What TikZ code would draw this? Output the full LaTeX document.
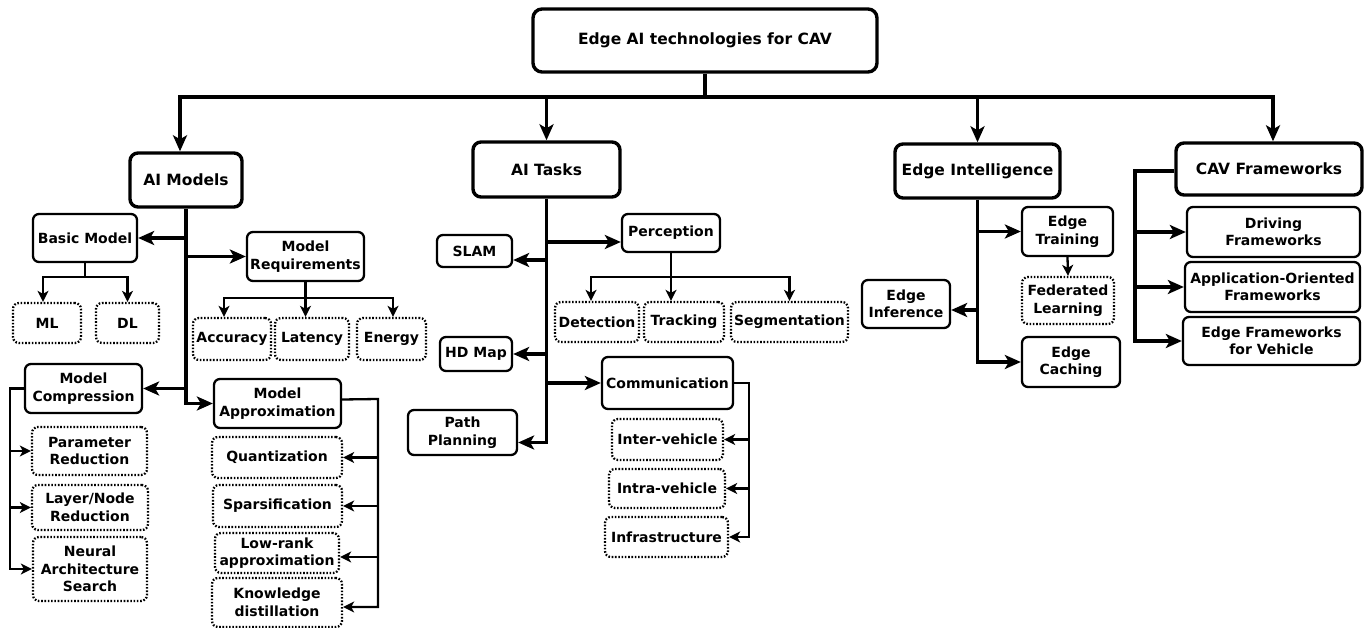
\documentclass[tikz,border=0pt]{standalone}
\usepackage{fontspec}
\setmainfont{DejaVu Sans}
\usetikzlibrary{arrows.meta}
\tikzset{
  basebox/.style={draw, rounded corners=6pt, align=center, inner sep=0pt, font=\bfseries\fontsize{14}{17.5}\selectfont},
  topbox/.style={basebox, line width=3.4pt, rounded corners=9pt, font=\bfseries\fontsize{15.5}{18}\selectfont},
  catbox/.style={basebox, line width=3.4pt, rounded corners=8pt, font=\bfseries\fontsize{15.5}{18}\selectfont},
  subbox/.style={basebox, line width=2.3pt},
  leafbox/.style={basebox, line width=2.3pt, dash pattern=on 1.6pt off 1.7pt},
  bigline/.style={line width=3.6pt},
  midline/.style={line width=3.2pt},
  smallline/.style={line width=2.3pt},
  bigarrow/.style={bigline, -{Stealth[length=16pt,width=14pt,inset=4pt]}},
  midarrow/.style={midline, -{Stealth[length=16pt,width=14pt,inset=4pt]}},
  smallarrow/.style={smallline, -{Stealth[length=11pt,width=11pt,inset=3pt]}},
}
\begin{document}
\begin{tikzpicture}[x=1pt,y=-1pt]
\fill[white] (0,0) rectangle (1367,628);
\useasboundingbox (0,0) rectangle (1367,628);

% ---- top
\node[topbox, minimum width=344pt, minimum height=63pt] (top) at (705,40.5) {Edge AI technologies for CAV};
\node[catbox, minimum width=112pt, minimum height=54pt] (aimodels) at (186,180) {AI Models};
\node[catbox, minimum width=147pt, minimum height=55pt] (aitasks) at (546.5,169.5) {AI Tasks};
\node[catbox, minimum width=165pt, minimum height=54pt] (ei) at (977.5,171) {Edge Intelligence};
\node[catbox, minimum width=186pt, minimum height=52pt] (cav) at (1269,169) {CAV Frameworks};

\coordinate (barL) at (180,97);
\coordinate (barR) at (1273,97);
\draw[midarrow] (top.south) -- (top.south |- barL) -- (barL) -- (barL |- aimodels.north);
\draw[midarrow] (top.south |- barL) -- (barR) -- (barR |- cav.north);
\draw[midarrow] (aitasks.north |- barL) -- (aitasks.north);
\draw[midarrow] (ei.north |- barL) -- (ei.north);

% ---- AI Models
\node[subbox, minimum width=104pt, minimum height=48pt] (basic) at (85,238) {Basic Model};
\node[subbox, minimum width=117pt, minimum height=49pt] (mreq) at (305.5,256.5) {Model\\Requirements};
\node[subbox, minimum width=117pt, minimum height=49pt] (mcomp) at (83.5,388.5) {Model\\Compression};
\node[subbox, minimum width=127pt, minimum height=49pt] (mapprox) at (277.5,403.5) {Model\\Approximation};
\node[leafbox, minimum width=68pt, minimum height=40pt] (ml) at (47,323) {ML};
\node[leafbox, minimum width=63pt, minimum height=40pt] (dl) at (127.5,323) {DL};
\node[leafbox, minimum width=78pt, minimum height=42pt] (acc) at (232,339) {Accuracy};
\node[leafbox, minimum width=74pt, minimum height=42pt] (lat) at (312,339) {Latency};
\node[leafbox, minimum width=69pt, minimum height=42pt] (ene) at (391.5,339) {Energy};
\node[leafbox, minimum width=115pt, minimum height=48pt] (pr) at (89.5,451) {Parameter\\Reduction};
\node[leafbox, minimum width=116pt, minimum height=45pt] (lnr) at (90,507.5) {Layer/Node\\Reduction};
\node[leafbox, minimum width=114pt, minimum height=64pt] (nas) at (90,569) {Neural\\Architecture\\Search};
\node[leafbox, minimum width=130pt, minimum height=41pt] (quant) at (277,457.5) {Quantization};
\node[leafbox, minimum width=129pt, minimum height=42pt] (spars) at (277.5,506) {Sparsification};
\node[leafbox, minimum width=124pt, minimum height=40pt] (lowr) at (277,553) {Low-rank\\approximation};
\node[leafbox, minimum width=130pt, minimum height=49pt] (kd) at (277,602.5) {Knowledge\\distillation};

\draw[bigarrow] (aimodels.south) -- (aimodels.south |- mapprox.west) -- (mapprox.west);
\draw[bigarrow] (aimodels.south |- basic.east) -- (basic.east);
\draw[bigarrow] (aimodels.south |- mreq.west) -- (mreq.west);
\draw[bigarrow] (aimodels.south |- mcomp.east) -- (mcomp.east);

\coordinate (bjoin) at (85,277);
\draw[smallline] (basic.south) -- (bjoin);
\draw[smallarrow] (bjoin) -| ([xshift=-4pt]ml.north);
\draw[smallarrow] (bjoin) -| (dl.north);

\coordinate (rjoin) at (305.5,298);
\draw[smallarrow] (mreq.south) -- (mreq.south |- lat.north);
\draw[smallarrow] (rjoin) -| ([xshift=-8pt]acc.north);
\draw[smallarrow] (rjoin) -| ([xshift=1.5pt]ene.north);

\coordinate (cx) at (10,388.5);
\draw[smallarrow] (mcomp.west) -- (cx) |- (nas.west);
\draw[smallarrow] (cx |- pr.west) -- (pr.west);
\draw[smallarrow] (cx |- lnr.west) -- (lnr.west);

\coordinate (ax) at (378,399);
\coordinate (mapE) at ([yshift=4pt]mapprox.east);
\coordinate (kdE) at ([yshift=-4.5pt]kd.east);
\coordinate (lowrE) at ([yshift=-4pt]lowr.east);
\draw[smallarrow] (mapE) -- (ax) |- (kdE);
\draw[smallarrow] (ax |- quant.east) -- (quant.east);
\draw[smallarrow] (ax |- spars.east) -- (spars.east);
\draw[smallarrow] (ax |- lowrE) -- (lowrE);

% ---- AI Tasks
\node[subbox, minimum width=98pt, minimum height=38pt] (perc) at (671,233) {Perception};
\node[subbox, minimum width=75pt, minimum height=32pt] (slam) at (474.5,251) {SLAM};
\node[subbox, minimum width=72pt, minimum height=34pt] (hdmap) at (476,354) {HD Map};
\node[subbox, minimum width=109pt, minimum height=45pt] (pp) at (462.5,432.5) {Path\\Planning};
\node[subbox, minimum width=131pt, minimum height=52pt] (comm) at (667.5,383) {Communication};
\node[leafbox, minimum width=84pt, minimum height=40pt] (det) at (597,322) {Detection};
\node[leafbox, minimum width=80pt, minimum height=40pt] (trk) at (684,322) {Tracking};
\node[leafbox, minimum width=117pt, minimum height=40pt] (seg) at (789.5,322) {Segmentation};
\node[leafbox, minimum width=111pt, minimum height=41pt] (inter) at (667.5,439.5) {Inter-vehicle};
\node[leafbox, minimum width=116pt, minimum height=39pt] (intra) at (667,488.5) {Intra-vehicle};
\node[leafbox, minimum width=123pt, minimum height=40pt] (infra) at (666.5,537) {Infrastructure};

\coordinate (ppE) at ([yshift=-10pt]pp.east);
\coordinate (slamE) at ([yshift=-9pt]slam.east);
\coordinate (percW) at ([yshift=-9pt]perc.west);
\draw[bigarrow] (aitasks.south) |- (ppE);
\draw[bigarrow] (aitasks.south |- slamE) -- (slamE);
\draw[bigarrow] (aitasks.south |- hdmap.east) -- (hdmap.east);
\draw[bigarrow] (aitasks.south |- percW) -- (percW);
\draw[bigarrow] (aitasks.south |- comm.west) -- (comm.west);

\coordinate (pj) at (671,277);
\draw[smallarrow] (perc.south) -- (perc.south |- trk.north);
\draw[smallarrow] (pj) -| ([xshift=-6pt]det.north);
\draw[smallarrow] (pj) -| (seg.north);

\coordinate (cmx) at (749,383);
\draw[smallarrow] (comm.east) -- (cmx) |- (infra.east);
\draw[smallarrow] (cmx |- inter.east) -- (inter.east);
\draw[smallarrow] (cmx |- intra.east) -- (intra.east);

% ---- Edge Intelligence
\node[subbox, minimum width=91pt, minimum height=49pt] (etr) at (1067.5,231.5) {Edge\\Training};
\node[leafbox, minimum width=92pt, minimum height=47pt] (fl) at (1068,300.5) {Federated\\Learning};
\node[subbox, minimum width=88pt, minimum height=48pt] (einf) at (906,304) {Edge\\Inference};
\node[subbox, minimum width=98pt, minimum height=50pt] (ecach) at (1071,362) {Edge\\Caching};

\coordinate (einfE) at ([yshift=-6pt]einf.east);
\draw[bigarrow] (ei.south) |- (ecach.west);
\draw[bigarrow] (ei.south |- etr.west) -- (etr.west);
\draw[bigarrow] (ei.south |- einfE) -- (einfE);
\draw[smallarrow] (etr.south) -- (fl.north);

% ---- CAV Frameworks
\node[subbox, minimum width=173pt, minimum height=50pt] (drv) at (1273.5,232) {Driving\\Frameworks};
\node[subbox, minimum width=175pt, minimum height=50pt] (aof) at (1272.5,287) {Application-Oriented\\Frameworks};
\node[subbox, minimum width=177pt, minimum height=48pt] (efv) at (1271.5,341) {Edge Frameworks\\for Vehicle};

\coordinate (cvx) at (1135,171);
\coordinate (cavW) at ([yshift=-2pt]cav.west);
\draw[bigarrow] (cavW) -- (cvx) |- (efv.west);
\draw[bigarrow] (cvx |- drv.west) -- (drv.west);
\draw[bigarrow] (cvx |- aof.west) -- (aof.west);
\end{tikzpicture}
\end{document}
